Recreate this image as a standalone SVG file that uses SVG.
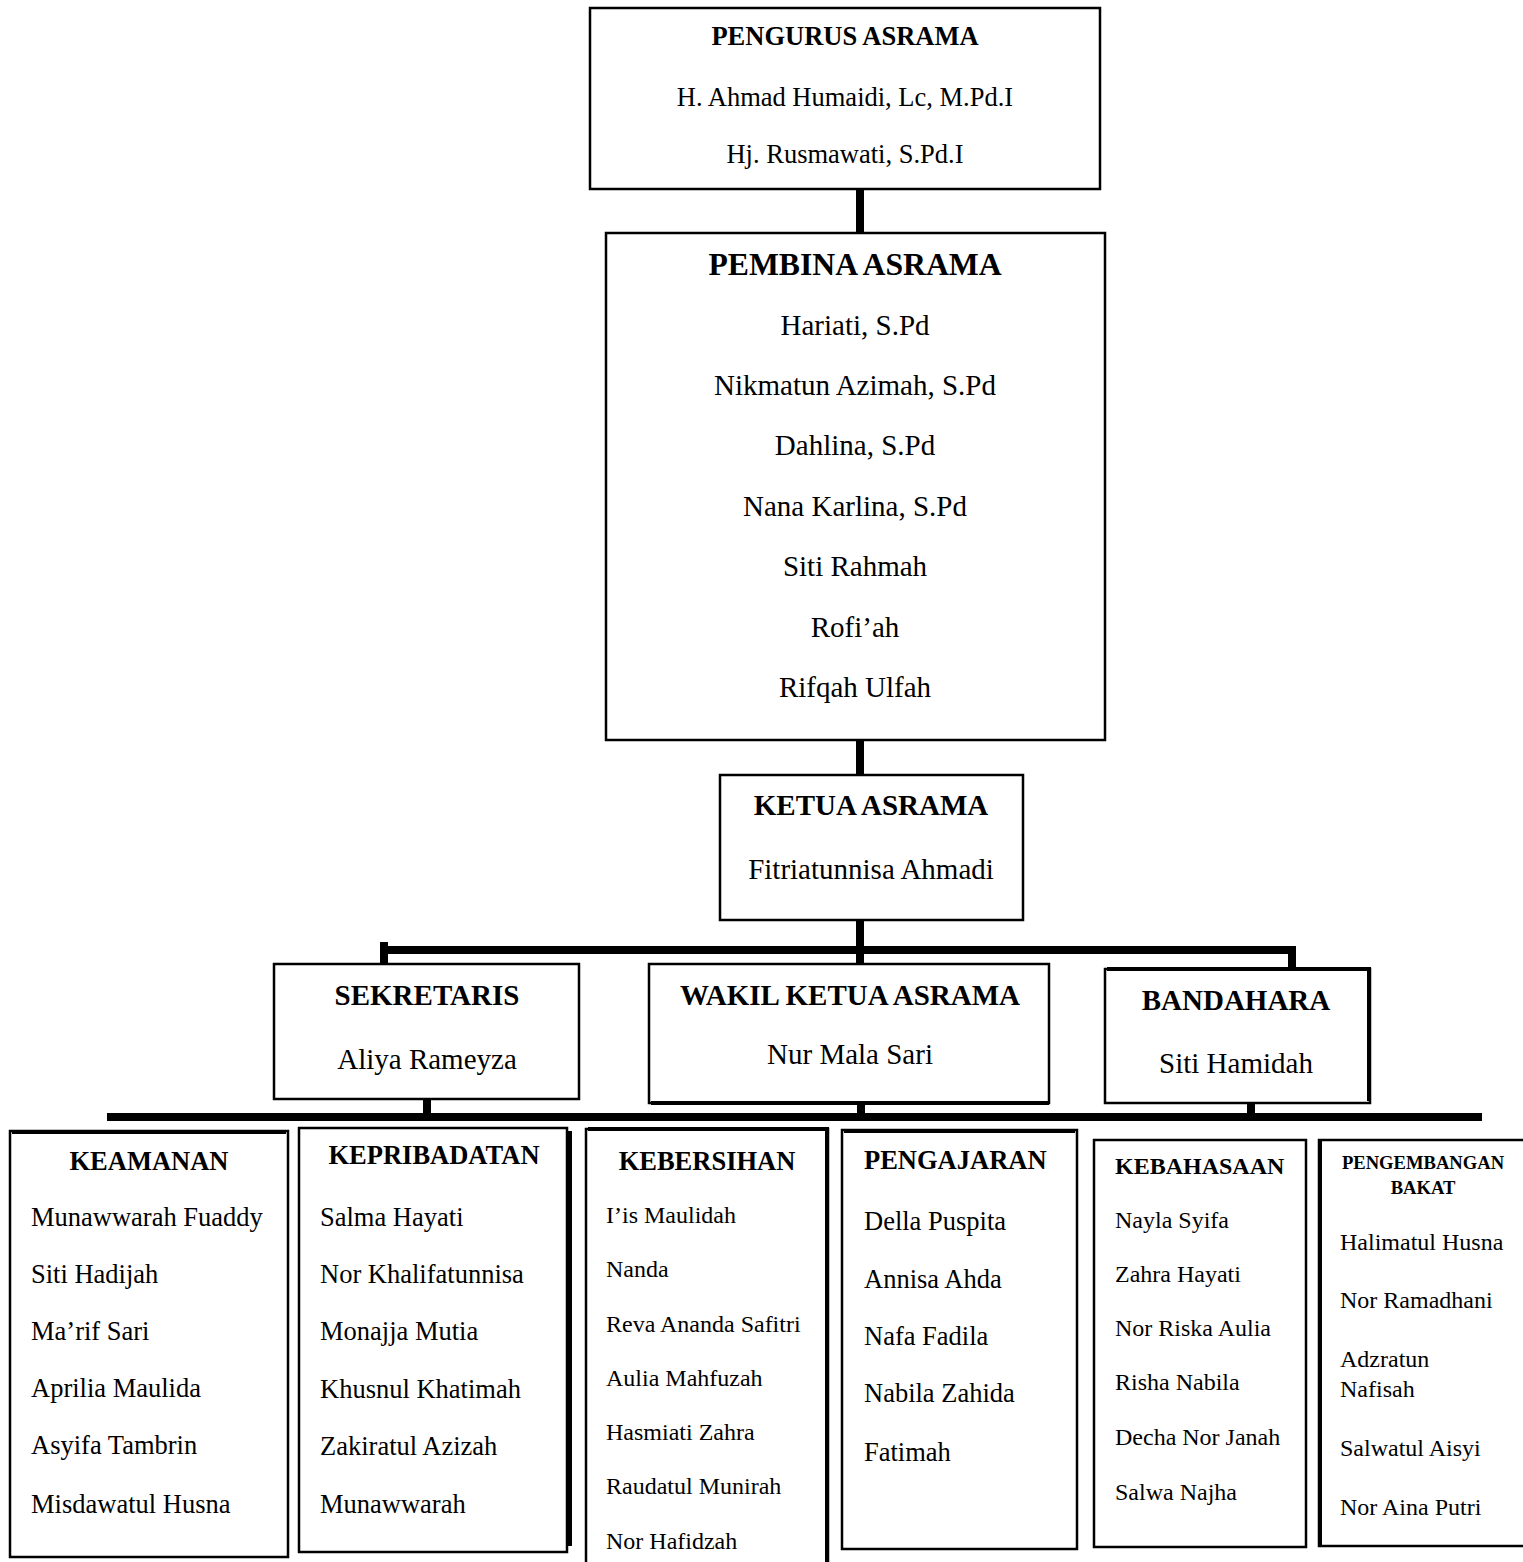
<svg xmlns="http://www.w3.org/2000/svg" width="1523" height="1562" viewBox="0 0 1523 1562">
<style>
.bx{fill:#fff;stroke:#000;stroke-width:2.5}
.sh{fill:none;stroke:#000;stroke-width:4}
.cn{stroke:#000;stroke-width:8;fill:none}
text{font-family:"Liberation Serif","Times New Roman",serif;fill:#000}
.h{font-weight:bold}
.m{text-anchor:middle}
.s29{font-size:29px}
.s26{font-size:26.5px}
.s24{font-size:24px}
</style>
<g id="connectors">
<line class="cn" x1="860" y1="190" x2="860" y2="233"/>
<line class="cn" x1="860" y1="740" x2="860" y2="775"/>
<line class="cn" x1="860" y1="920" x2="860" y2="964"/>
<line class="cn" x1="381" y1="950" x2="1296" y2="950"/>
<line class="cn" x1="384" y1="942" x2="384" y2="964"/>
<line class="cn" x1="1292" y1="946" x2="1292" y2="977"/>
<line class="cn" x1="107" y1="1117" x2="1482" y2="1117"/>
<line class="cn" x1="427" y1="1099" x2="427" y2="1117"/>
<line class="cn" x1="861" y1="1104" x2="861" y2="1117"/>
<line class="cn" x1="1251" y1="1104" x2="1251" y2="1117"/>
</g>
<g id="pengurus">
<rect class="bx" x="590" y="8" width="510" height="181"/>
<text class="h m" x="845" y="45" font-size="26.5">PENGURUS ASRAMA</text>
<text class="m s26" x="845" y="106">H. Ahmad Humaidi, Lc, M.Pd.I</text>
<text class="m s26" x="845" y="163">Hj. Rusmawati, S.Pd.I</text>
</g>
<g id="pembina">
<rect class="bx" x="606" y="233" width="499" height="507"/>
<text class="h m" x="855" y="275" font-size="31.7">PEMBINA ASRAMA</text>
<text class="m s29" x="855" y="335">Hariati, S.Pd</text>
<text class="m s29" x="855" y="395">Nikmatun Azimah, S.Pd</text>
<text class="m s29" x="855" y="455">Dahlina, S.Pd</text>
<text class="m s29" x="855" y="516">Nana Karlina, S.Pd</text>
<text class="m s29" x="855" y="576">Siti Rahmah</text>
<text class="m s29" x="855" y="637">Rofi’ah</text>
<text class="m s29" x="855" y="697">Rifqah Ulfah</text>
</g>
<g id="ketua">
<rect class="bx" x="720" y="775" width="303" height="145"/>
<text class="h m s29" x="871" y="815">KETUA ASRAMA</text>
<text class="m s29" x="871" y="879">Fitriatunnisa Ahmadi</text>
</g>
<g id="sekretaris">
<rect class="bx" x="274" y="964" width="305" height="135"/>
<text class="h m s29" x="427" y="1005">SEKRETARIS</text>
<text class="m s29" x="427" y="1069">Aliya Rameyza</text>
</g>
<g id="wakil">
<rect class="bx" x="649" y="964" width="400" height="139"/>
<line class="sh" x1="651" y1="1103" x2="1049" y2="1103"/>
<text class="h m s29" x="850" y="1005">WAKIL KETUA ASRAMA</text>
<text class="m s29" x="850" y="1064">Nur Mala Sari</text>
</g>
<g id="bandahara">
<rect class="bx" x="1105" y="969" width="265" height="134"/>
<polyline class="sh" points="1107,969 1369,969 1369,1101"/>
<text class="h m s29" x="1236" y="1010">BANDAHARA</text>
<text class="m s29" x="1236" y="1073">Siti Hamidah</text>
</g>
<g id="keamanan">
<rect class="bx" x="10" y="1131" width="278" height="426"/>
<line class="sh" x1="12" y1="1132" x2="286" y2="1132"/>
<text class="h m s26" x="149" y="1170">KEAMANAN</text>
<text class="s26" x="31" y="1226">Munawwarah Fuaddy</text>
<text class="s26" x="31" y="1283">Siti Hadijah</text>
<text class="s26" x="31" y="1340">Ma’rif Sari</text>
<text class="s26" x="31" y="1397">Aprilia Maulida</text>
<text class="s26" x="31" y="1454">Asyifa Tambrin</text>
<text class="s26" x="31" y="1513">Misdawatul Husna</text>
</g>
<g id="kepribadatan">
<rect class="bx" x="299" y="1128" width="268" height="424"/>
<line class="sh" x1="570" y1="1131" x2="570" y2="1546"/>
<text class="h m s26" x="434" y="1164">KEPRIBADATAN</text>
<text class="s26" x="320" y="1226">Salma Hayati</text>
<text class="s26" x="320" y="1283">Nor Khalifatunnisa</text>
<text class="s26" x="320" y="1340">Monajja Mutia</text>
<text class="s26" x="320" y="1398">Khusnul Khatimah</text>
<text class="s26" x="320" y="1455">Zakiratul Azizah</text>
<text class="s26" x="320" y="1513">Munawwarah</text>
</g>
<g id="kebersihan">
<rect class="bx" x="586" y="1129" width="242" height="440"/>
<polyline class="sh" points="588,1129 827,1129 827,1564"/>
<text class="h m s26" x="707" y="1170">KEBERSIHAN</text>
<text class="s24" x="606" y="1223">I’is Maulidah</text>
<text class="s24" x="606" y="1277">Nanda</text>
<text class="s24" x="606" y="1332">Reva Ananda Safitri</text>
<text class="s24" x="606" y="1386">Aulia Mahfuzah</text>
<text class="s24" x="606" y="1440">Hasmiati Zahra</text>
<text class="s24" x="606" y="1494">Raudatul Munirah</text>
<text class="s24" x="606" y="1549">Nor Hafidzah</text>
</g>
<g id="pengajaran">
<rect class="bx" x="842" y="1130" width="235" height="419"/>
<line class="sh" x1="844" y1="1131" x2="1075" y2="1131"/>
<text class="h s26" x="864" y="1169">PENGAJARAN</text>
<text class="s26" x="864" y="1230">Della Puspita</text>
<text class="s26" x="864" y="1288">Annisa Ahda</text>
<text class="s26" x="864" y="1345">Nafa Fadila</text>
<text class="s26" x="864" y="1402">Nabila Zahida</text>
<text class="s26" x="864" y="1461">Fatimah</text>
</g>
<g id="kebahasaan">
<rect class="bx" x="1094" y="1140" width="212" height="407"/>
<text class="h s24" x="1115" y="1174">KEBAHASAAN</text>
<text class="s24" x="1115" y="1228">Nayla Syifa</text>
<text class="s24" x="1115" y="1282">Zahra Hayati</text>
<text class="s24" x="1115" y="1336">Nor Riska Aulia</text>
<text class="s24" x="1115" y="1390">Risha Nabila</text>
<text class="s24" x="1115" y="1445">Decha Nor Janah</text>
<text class="s24" x="1115" y="1500">Salwa Najha</text>
</g>
<g id="pengembangan">
<rect class="bx" x="1319" y="1140" width="210" height="406"/>
<line class="sh" x1="1320" y1="1141" x2="1320" y2="1545"/>
<text class="h m" x="1423" y="1169" font-size="18.6">PENGEMBANGAN</text>
<text class="h m" x="1423" y="1194" font-size="18.6">BAKAT</text>
<text class="s24" x="1340" y="1250">Halimatul Husna</text>
<text class="s24" x="1340" y="1308">Nor Ramadhani</text>
<text class="s24" x="1340" y="1367">Adzratun</text>
<text class="s24" x="1340" y="1397">Nafisah</text>
<text class="s24" x="1340" y="1456">Salwatul Aisyi</text>
<text class="s24" x="1340" y="1515">Nor Aina Putri</text>
</g>
</svg>
